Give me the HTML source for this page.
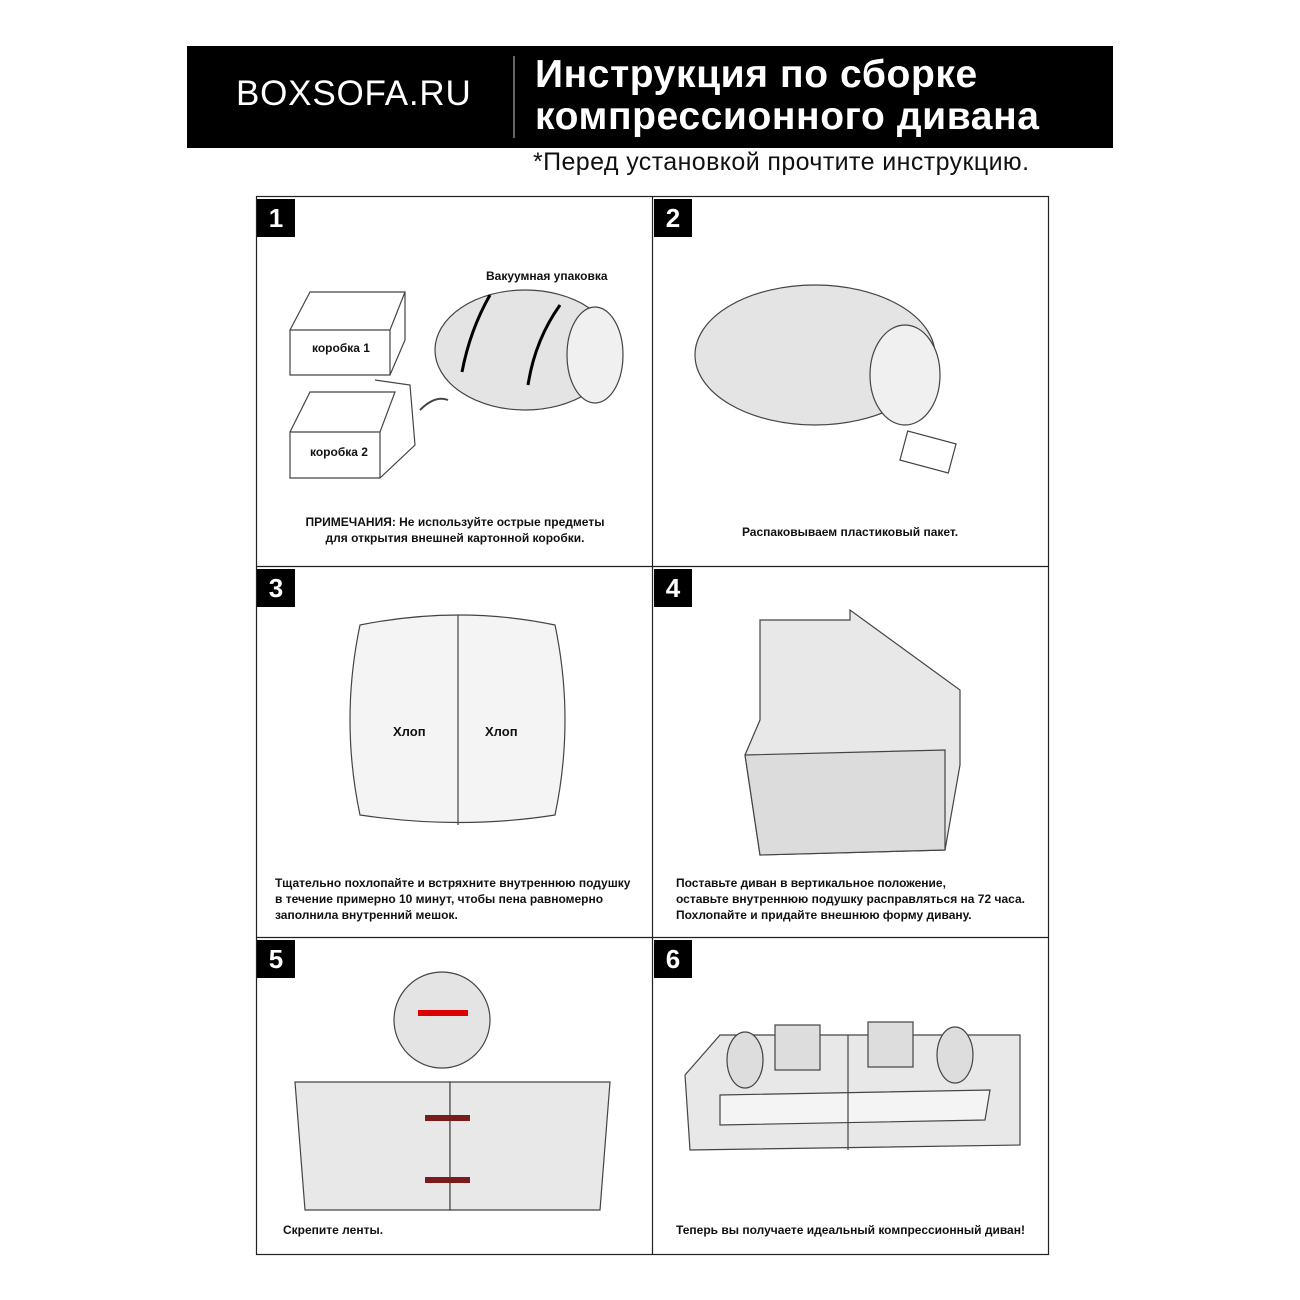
<!DOCTYPE html>
<html><head><meta charset="utf-8"><style>
body{margin:0;width:1300px;height:1300px;background:#fff;position:relative;font-family:"Liberation Sans",sans-serif;overflow:hidden}
.abs{position:absolute}
.hdr{left:187px;top:46px;width:926px;height:102px;background:#000}
.badge{position:absolute;width:38px;height:38px;background:#000;color:#fff;font-weight:bold;font-size:26px;text-align:center;line-height:38px}
.cap{position:absolute;font-weight:bold;font-size:12px;color:#111;line-height:16px}
</style></head><body>
<div class="abs hdr"></div>
<div class="abs" style="left:236px;top:74px;color:#fff;font-size:35px;letter-spacing:0.8px">BOXSOFA.RU</div>
<div class="abs" style="left:513px;top:56px;width:2px;height:82px;background:#666"></div>
<div class="abs" style="left:535px;top:54px;color:#fff;font-size:39px;font-weight:bold;line-height:42px;letter-spacing:0.6px">Инструкция по сборке<br>компрессионного дивана</div>
<div class="abs" style="left:533px;top:148px;font-size:25px;color:#111;letter-spacing:0.4px">*Перед установкой прочтите инструкцию.</div>

<svg class="abs" style="left:0;top:0" width="1300" height="1300">
<g fill="none" stroke="#222" stroke-width="1.2">
<rect x="256.5" y="196.5" width="792" height="1058"/>
<line x1="652.5" y1="196" x2="652.5" y2="1254"/>
<line x1="256" y1="566.5" x2="1048" y2="566.5"/>
<line x1="256" y1="937.5" x2="1048" y2="937.5"/>
</g>
<g fill="#fff" stroke="#444" stroke-width="1.2">
<path d="M290 330 L390 330 L390 375 L290 375 Z M290 330 L310 292 L405 292 L390 330 M390 375 L405 340 L405 292"/>
<path d="M290 432 L380 432 L380 478 L290 478 Z M290 432 L310 392 L395 392 L380 432 M380 478 L415 445 L410 385 L375 380"/>
<ellipse cx="525" cy="350" rx="90" ry="60" fill="#e4e4e4"/>
<ellipse cx="595" cy="355" rx="28" ry="48" fill="#f0f0f0"/>
<path d="M420 410 Q435 395 448 400" stroke-width="2"/>
<ellipse cx="815" cy="355" rx="120" ry="70" fill="#e4e4e4"/>
<ellipse cx="905" cy="375" rx="35" ry="50" fill="#f0f0f0"/>
<rect x="903" y="437" width="50" height="30" transform="rotate(15 928 452)"/>
<path d="M360 625 Q460 605 555 625 Q575 720 555 815 Q460 830 360 815 Q340 720 360 625Z" fill="#f4f4f4"/>
<line x1="458" y1="615" x2="458" y2="825"/>
<path d="M760 620 L850 620 L850 610 L960 690 L960 765 L945 850 L760 855 L745 755 L760 720Z" fill="#e8e8e8"/>
<path d="M745 755 L945 750 L945 850 L760 855Z" fill="#dcdcdc"/>
<circle cx="442" cy="1020" r="48" fill="#e4e4e4"/>
<rect x="418" y="1010" width="50" height="6" fill="#d00" stroke="none"/>
<path d="M295 1082 L450 1082 L450 1210 L305 1210 Z" fill="#e8e8e8"/>
<path d="M450 1082 L610 1082 L600 1210 L450 1210 Z" fill="#e8e8e8"/>
<rect x="425" y="1115" width="45" height="6" fill="#7a1c1c" stroke="none"/>
<rect x="425" y="1177" width="45" height="6" fill="#7a1c1c" stroke="none"/>
<path d="M685 1075 L720 1035 L1020 1035 L1020 1145 L690 1150 Z" fill="#e8e8e8"/>
<path d="M720 1095 L990 1090 L985 1120 L720 1125Z" fill="#f4f4f4"/>
<line x1="848" y1="1035" x2="848" y2="1150"/>
<rect x="775" y="1025" width="45" height="45" fill="#ddd"/>
<rect x="868" y="1022" width="45" height="45" fill="#ddd"/>
<ellipse cx="745" cy="1060" rx="18" ry="28" fill="#ddd"/>
<ellipse cx="955" cy="1055" rx="18" ry="28" fill="#ddd"/>
</g>
<g stroke="#000" stroke-width="3" fill="none">
<path d="M490 295 Q470 330 462 372"/><path d="M560 305 Q535 340 528 385"/>
</g>
</svg>

<div class="badge" style="left:257px;top:199px">1</div>
<div class="badge" style="left:654px;top:199px">2</div>
<div class="badge" style="left:257px;top:569px">3</div>
<div class="badge" style="left:654px;top:569px">4</div>
<div class="badge" style="left:257px;top:940px">5</div>
<div class="badge" style="left:654px;top:940px">6</div>

<div class="cap" style="left:486px;top:268px">Вакуумная упаковка</div>
<div class="cap" style="left:312px;top:340px">коробка 1</div>
<div class="cap" style="left:310px;top:444px">коробка 2</div>
<div class="cap" style="left:275px;top:514px;width:360px;text-align:center">ПРИМЕЧАНИЯ: Не используйте острые предметы<br>для открытия внешней картонной коробки.</div>
<div class="cap" style="left:652px;top:524px;width:396px;text-align:center">Распаковываем пластиковый пакет.</div>
<div class="cap" style="left:393px;top:724px;font-size:13px">Хлоп</div>
<div class="cap" style="left:485px;top:724px;font-size:13px">Хлоп</div>
<div class="cap" style="left:275px;top:875px">Тщательно похлопайте и встряхните внутреннюю подушку<br>в течение примерно 10 минут, чтобы пена равномерно<br>заполнила внутренний мешок.</div>
<div class="cap" style="left:676px;top:875px">Поставьте диван в вертикальное положение,<br>оставьте внутреннюю подушку расправляться на 72 часа.<br>Похлопайте и придайте внешнюю форму дивану.</div>
<div class="cap" style="left:283px;top:1222px">Скрепите ленты.</div>
<div class="cap" style="left:676px;top:1222px">Теперь вы получаете идеальный компрессионный диван!</div>
</body></html>
